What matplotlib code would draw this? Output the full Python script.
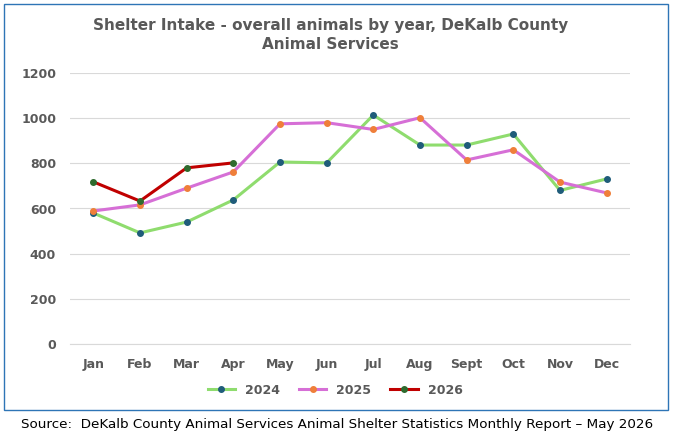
import matplotlib
matplotlib.use("Agg")
import matplotlib.pyplot as plt
from matplotlib.patches import Rectangle

months = ["Jan","Feb","Mar","Apr","May","Jun","Jul","Aug","Sept","Oct","Nov","Dec"]
s2024 = [580, 492, 540, 638, 806, 802, 1014, 881, 881, 930, 680, 731]
s2025 = [589, 616, 690, 762, 975, 980, 950, 1002, 815, 860, 717, 669]
s2026 = [718, 633, 780, 802]

fig = plt.figure(figsize=(6.75, 4.36), dpi=100)
fig.patches.append(Rectangle((4/675, 1-410/436), 664/675, 406/436, transform=fig.transFigure,
                             fill=False, edgecolor="#2e75b6", linewidth=1))
ax = fig.add_axes([70/675, 1-344/436, (630-70)/675, (344-73)/436])
x = range(12)
ax.plot(x, s2024, color="#8fdc6e", lw=2.2, marker="o", ms=4, mfc="#1f5c7a", mec="#1f5c7a", label="2024")
ax.plot(x, s2025, color="#d66fd6", lw=2.2, marker="o", ms=4, mfc="#ef7f3a", mec="#ef7f3a", label="2025")
ax.plot(range(len(s2026)), s2026, color="#c00000", lw=2.2, marker="o", ms=4, mfc="#2e6b2e", mec="#2e6b2e", label="2026")
ax.set_ylim(0, 1200)
ax.set_xlim(-0.5, 11.5)
ax.set_yticks(range(0, 1201, 200))
ax.set_xticks(list(x))
ax.set_xticklabels(months)
ax.grid(axis="y", color="#d9d9d9", lw=0.8)
ax.set_axisbelow(True)
for s in ["top","right","left"]:
    ax.spines[s].set_visible(False)
ax.spines["bottom"].set_color("#d9d9d9")
ax.tick_params(length=0, labelsize=9, colors="#595959", pad=10)
for t in ax.get_xticklabels()+ax.get_yticklabels():
    t.set_fontweight("bold")
fig.text(0.49, 1-35/436, "Shelter Intake - overall animals by year, DeKalb County\nAnimal Services",
         ha="center", va="center", fontsize=11, fontweight="bold", color="#595959", linespacing=1.3)
leg = fig.legend(loc="center", bbox_to_anchor=(335/675, 1-390/436), ncol=3, frameon=False,
                 prop={"size": 9, "weight": "bold"}, handlelength=2.2, columnspacing=1.5)
for t in leg.get_texts():
    t.set_color("#595959")
fig.text(0.5, 1-424/436, "Source:  DeKalb County Animal Services Animal Shelter Statistics Monthly Report \u2013 May 2026",
         ha="center", va="center", fontsize=9.7, color="black")
fig.savefig("out.png", dpi=100)
